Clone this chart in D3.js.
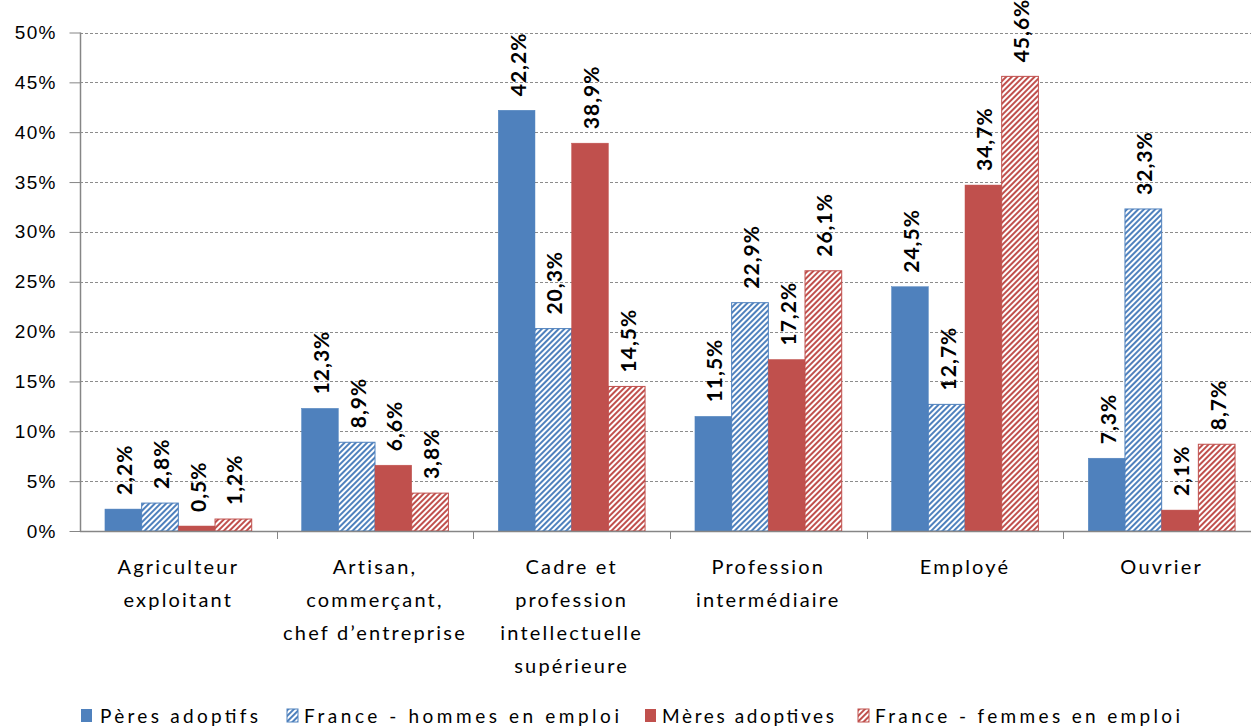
<!DOCTYPE html>
<html>
<head>
<meta charset="utf-8">
<script src="https://cdn.jsdelivr.net/npm/d3@7"></script>
<style>
  body { margin: 0; background: #fff; }
  svg { display: block; font-family: Lato, "Liberation Sans", sans-serif; }
  .tick-lbl { font-size: 19px; fill: #000; letter-spacing: 1.2px; }
  .cat-lbl { font-size: 20px; fill: #000; letter-spacing: 2.2px; }
  .val { font-size: 21px; font-weight: bold; fill: #000; letter-spacing: 1px; }
  .leg { font-size: 19px; fill: #000; }
</style>
</head>
<body>
<svg width="1251" height="727"></svg>
<script>
var categories = [
  ["Agriculteur", "exploitant"],
  ["Artisan,", "commerçant,", "chef d’entreprise"],
  ["Cadre et", "profession", "intellectuelle", "supérieure"],
  ["Profession", "intermédiaire"],
  ["Employé"],
  ["Ouvrier"]
];
var series = ["Pères adoptifs", "France - hommes en emploi", "Mères adoptives", "France - femmes en emploi"];
var peres = [2.2, 12.3, 42.2, 11.5, 24.5, 7.3];
var hommes = [2.8, 8.9, 20.3, 22.9, 12.7, 32.3];
var meres = [0.5, 6.6, 38.9, 17.2, 34.7, 2.1];
var femmes = [1.2, 3.8, 14.5, 26.1, 45.6, 8.7];
var yTicks = [0, 5, 10, 15, 20, 25, 30, 35, 40, 45, 50];

var values = [peres, hommes, meres, femmes];
var fills = ["#4F81BD", "url(#hatchBlue)", "#C0504D", "url(#hatchRed)"];
var strokes = ["#4F81BD", "#4F81BD", "#C0504D", "#C0504D"];

var svg = d3.select("svg"),
    margin = {top: 32.5, left: 80},
    plotRight = 1260,
    plotBottom = 531;

var defs = svg.append("defs");
function hatch(id, color) {
  var p = defs.append("pattern")
      .attr("id", id)
      .attr("patternUnits", "userSpaceOnUse")
      .attr("width", 4)
      .attr("height", 4)
      .attr("patternTransform", "rotate(45)");
  p.append("rect").attr("width", 4).attr("height", 4).attr("fill", "#fff");
  p.append("rect").attr("width", 2).attr("height", 4).attr("fill", color);
}
hatch("hatchBlue", "#4F81BD");
hatch("hatchRed", "#C0504D");

var catIdx = d3.range(categories.length);
var x0 = d3.scaleBand().domain(catIdx).range([margin.left, plotRight]).padding(0);
var x1 = d3.scaleBand().domain(d3.range(series.length)).range([0, x0.bandwidth()])
    .paddingInner(0).paddingOuter(0.68);
var y = d3.scaleLinear().domain([0, 50]).range([plotBottom, margin.top]);

// gridlines
svg.append("g")
  .selectAll("line")
  .data(yTicks.filter(function(d) { return d > 0; }))
  .enter().append("line")
    .attr("x1", margin.left).attr("x2", plotRight)
    .attr("y1", function(d) { return Math.round(y(d)) + 0.5; })
    .attr("y2", function(d) { return Math.round(y(d)) + 0.5; })
    .attr("stroke", "#8c8c8c")
    .attr("stroke-dasharray", "3,2");

// y axis
var yAxis = svg.append("g")
    .attr("transform", "translate(" + (margin.left + 0.5) + ",0)")
    .call(d3.axisLeft(y).tickValues(yTicks).tickSize(11).tickPadding(13)
      .tickFormat(function(d) { return d + "%"; }));
yAxis.select(".domain").attr("stroke", "#868686").attr("stroke-width", 1.5).attr("d", "M0," + y(50) + "V" + plotBottom);
yAxis.selectAll(".tick line").attr("stroke", "#868686");
yAxis.selectAll(".tick text").attr("class", "tick-lbl").attr("font-size", null).attr("font-family", null);

// bars
var groups = svg.append("g")
  .selectAll("g")
  .data(catIdx)
  .enter().append("g")
    .attr("transform", function(c) { return "translate(" + x0(c) + ",0)"; });

groups.selectAll("rect")
  .data(function(c) { return values.map(function(v, s) { return {s: s, v: v[c]}; }); })
  .enter().append("rect")
    .attr("x", function(d) { return x1(d.s); })
    .attr("width", x1.bandwidth())
    .attr("y", function(d) { return y(d.v); })
    .attr("height", function(d) { return plotBottom - y(d.v); })
    .attr("fill", function(d) { return fills[d.s]; })
    .attr("stroke", function(d) { return strokes[d.s]; })
    .attr("stroke-width", function(d) { return d.s % 2 ? 1 : 0.5; });

groups.selectAll("text.val")
  .data(function(c) { return values.map(function(v, s) { return {s: s, v: v[c]}; }); })
  .enter().append("text")
    .attr("class", "val")
    .attr("transform", function(d) {
      return "translate(" + (x1(d.s) + x1.bandwidth() / 2 + 9) + "," + (y(d.v) - 14) + ") rotate(-90)";
    })
    .text(function(d) { return d3.format(".1f")(d.v).replace(".", ",") + "%"; });

// x axis
var xAxis = svg.append("g");
xAxis.append("line")
  .attr("x1", margin.left).attr("x2", plotRight)
  .attr("y1", plotBottom + 0.5).attr("y2", plotBottom + 0.5)
  .attr("stroke", "#868686").attr("stroke-width", 1.5);
xAxis.selectAll("line.tk")
  .data(catIdx.slice(1))
  .enter().append("line")
    .attr("class", "tk")
    .attr("x1", function(c) { return Math.round(x0(c)) + 0.5; })
    .attr("x2", function(c) { return Math.round(x0(c)) + 0.5; })
    .attr("y1", plotBottom).attr("y2", plotBottom + 8)
    .attr("stroke", "#868686");
xAxis.selectAll("text")
  .data(catIdx)
  .enter().append("text")
    .attr("class", "cat-lbl")
    .attr("text-anchor", "middle")
    .attr("x", function(c) { return x0(c) + x0.bandwidth() / 2; })
    .attr("y", 574)
    .each(function(c) {
      var t = d3.select(this);
      categories[c].forEach(function(line, i) {
        t.append("tspan").attr("x", x0(c) + x0.bandwidth() / 2).attr("dy", i ? 33 : 0).text(line);
      });
    });

// legend
var legX = [81, 287, 645, 858];
var legW = [158, 315, 172, 305];
var leg = svg.append("g")
  .selectAll("g")
  .data(series)
  .enter().append("g")
    .attr("transform", function(d, i) { return "translate(" + legX[i] + ",709)"; });
leg.append("rect")
  .attr("width", 11).attr("height", 13)
  .attr("fill", function(d, i) { return fills[i]; })
  .attr("stroke", function(d, i) { return i % 2 ? strokes[i] : "none"; });
leg.append("text")
  .attr("class", "leg")
  .attr("x", function(d, i) { return i === 0 ? 19 : 17; }).attr("y", 14)
  .attr("textLength", function(d, i) { return legW[i]; })
  .attr("lengthAdjust", "spacing")
  .text(function(d) { return d; });
</script>
</body>
</html>
